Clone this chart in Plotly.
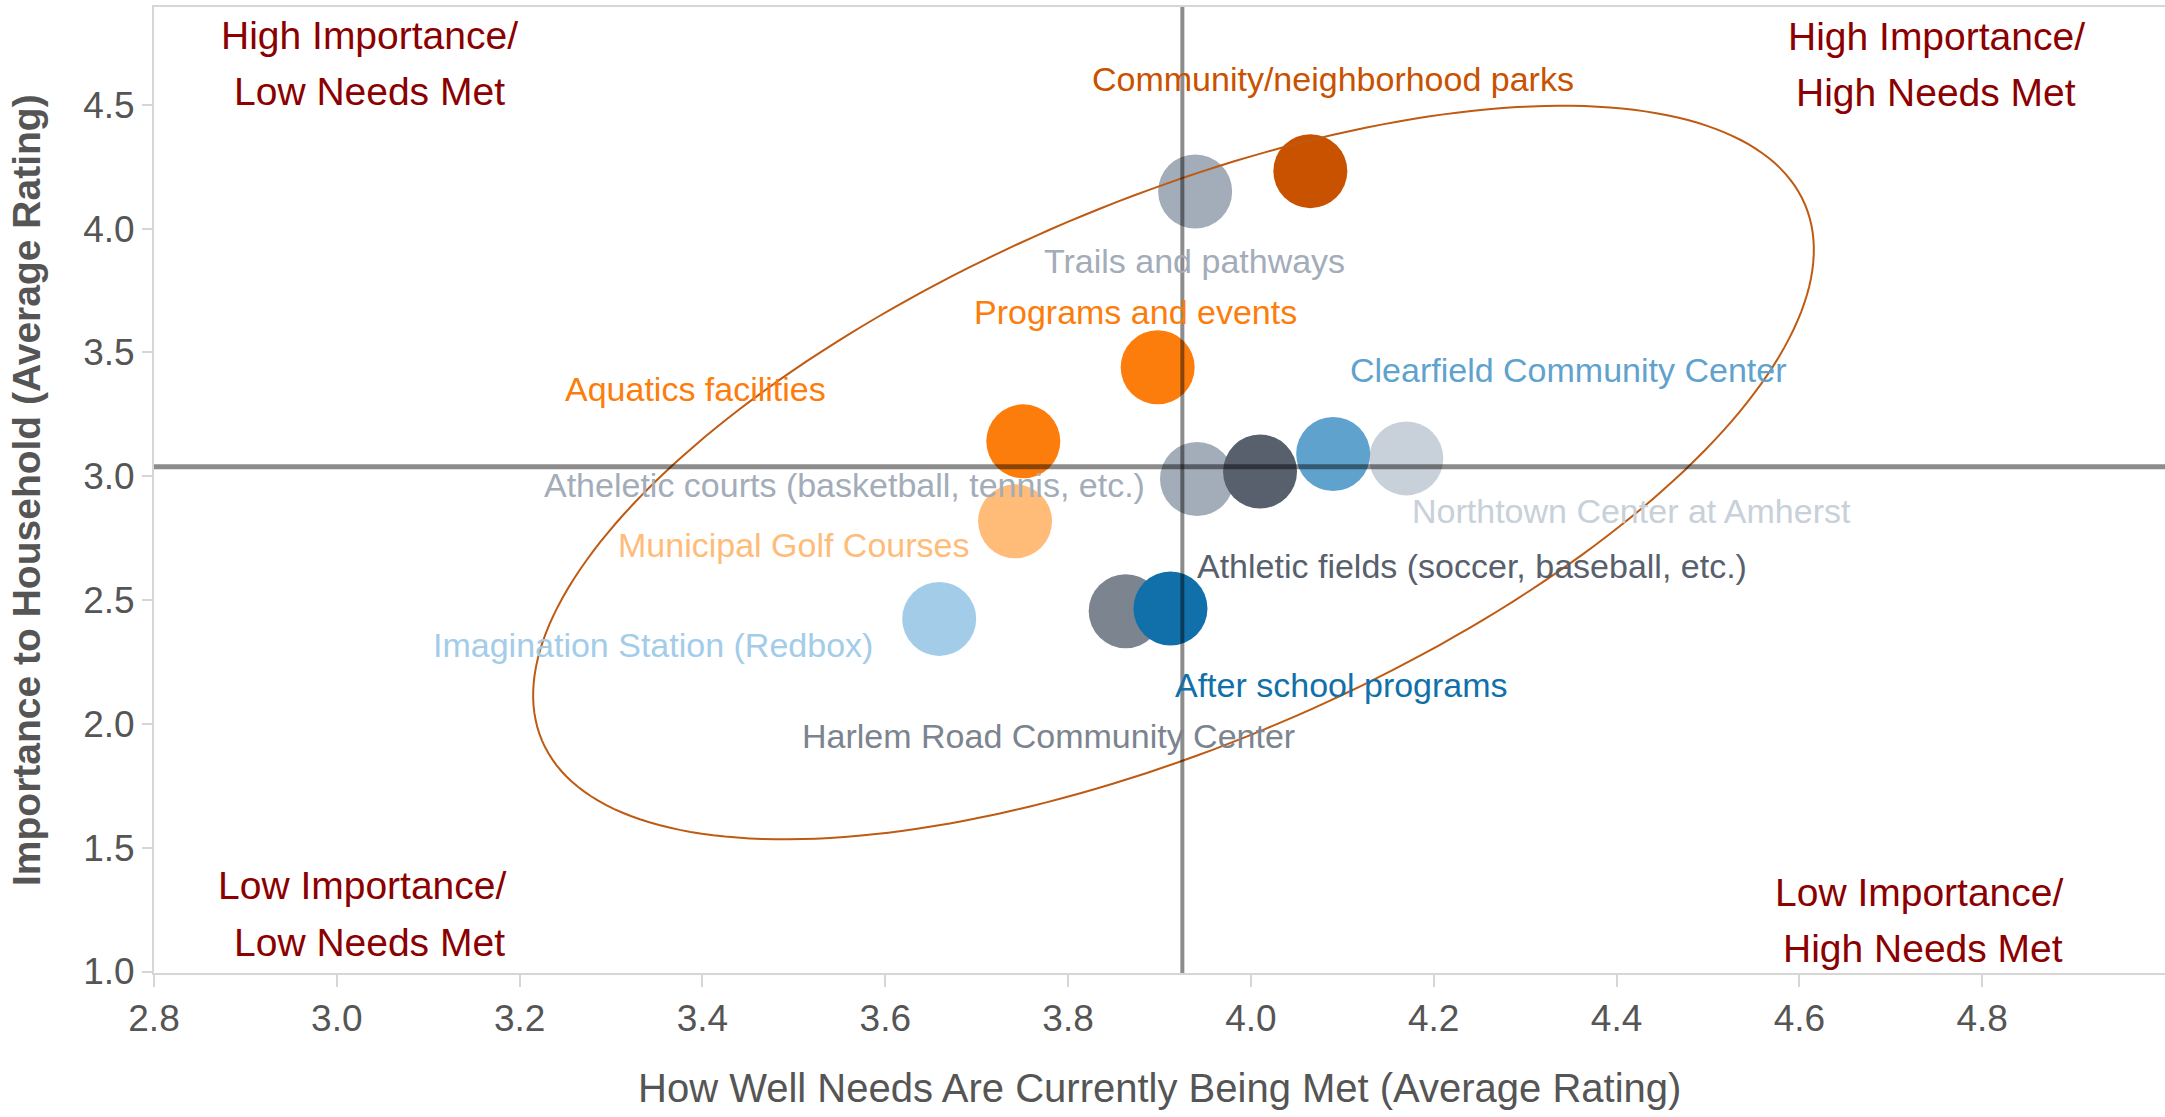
import numpy as np
import plotly.graph_objects as go

# amenities, drawn in this order (later ones sit on top)
amenities = [
    "Northtown Center at Amherst",
    "Clearfield Community Center",
    "Atheletic courts (basketball, tennis, etc.)",
    "Athletic fields (soccer, baseball, etc.)",
    "Trails and pathways",
    "Community/neighborhood parks",
    "Programs and events",
    "Aquatics facilities",
    "Municipal Golf Courses",
    "Imagination Station (Redbox)",
    "Harlem Road Community Center",
    "After school programs",
]
needs_met = [4.170, 4.090, 3.941, 4.010, 3.939, 4.065, 3.898, 3.751, 3.742, 3.659, 3.863, 3.912]
importance = [3.072, 3.090, 2.989, 3.019, 4.150, 4.232, 3.440, 3.141, 2.818, 2.424, 2.455, 2.466]

# reference lines
ref_needs_met = 3.925
ref_importance = 3.038

x_ticks = [2.8, 3.0, 3.2, 3.4, 3.6, 3.8, 4.0, 4.2, 4.4, 4.6, 4.8]
y_ticks = [1.0, 1.5, 2.0, 2.5, 3.0, 3.5, 4.0, 4.5]

quadrants = [
    ("High Importance/", "Low Needs Met"),
    ("High Importance/", "High Needs Met"),
    ("Low Importance/", "Low Needs Met"),
    ("Low Importance/", "High Needs Met"),
]

# --- styling -------------------------------------------------------------
colors = ["#c8d0d9", "#5fa2ce", "#a3acb9", "#57606c", "#a3acb9", "#c85200",
          "#fc7d0b", "#fc7d0b", "#ffbc79", "#a3cce9", "#7b848f", "#1170aa"]
# label placement relative to each marker: (xshift px, yshift px, xanchor)
label_pos = [
    (4, -53, "left"), (15, 84, "left"), (-50, -6, "right"), (-65, -94, "left"),
    (-1, -70, "center"), (23, 92, "center"), (141, 55, "right"), (-195, 52, "right"),
    (-44, -24, "right"), (-64, -26, "right"), (-77, -125, "center"), (3, -77, "left"),
]
# quadrant label line centres in page pixels: (x1, y1, x2, y2)
quad_px = [(369, 35, 369, 91), (1936, 37, 1936, 93),
           (362, 885, 369, 942), (1919, 892, 1923, 948)]

W, H = 2165, 1117
ML, MR, MT, MB = 154, 0, 7, 144
x_range = [2.8, 5.0]
y_range = [0.994, 4.895]
plot_w, plot_h = W - ML - MR, H - MT - MB
kx = plot_w / (x_range[1] - x_range[0])
ky = plot_h / (y_range[1] - y_range[0])

FONT = "Arial, Liberation Sans, sans-serif"
DARK_RED = "#8b0000"
GREY_TXT = "#555555"
AXIS_GREY = "#d6d6d6"

fig = go.Figure()
fig.add_trace(go.Scatter(
    x=needs_met, y=importance,
    mode="markers",
    marker=dict(size=74, color=colors, line=dict(width=0)),
    text=amenities,
    hoverinfo="text",
    showlegend=False,
))

# point labels
for name, xv, yv, col, (dx, dy, anc) in zip(amenities, needs_met, importance, colors, label_pos):
    fig.add_annotation(
        x=xv, y=yv, xref="x", yref="y", text=name, showarrow=False,
        xanchor=anc, yanchor="middle", xshift=dx, yshift=dy,
        font=dict(family=FONT, size=34, color=col),
    )

# quadrant labels
def to_paper(px, py):
    return (px - ML) / plot_w, (H - MB - py) / plot_h

for (l1, l2), (x1, y1, x2, y2) in zip(quadrants, quad_px):
    for txt, px, py in ((l1, x1, y1), (l2, x2, y2)):
        fx, fy = to_paper(px, py)
        fig.add_annotation(
            x=fx, y=fy, xref="paper", yref="paper", text=txt, showarrow=False,
            xanchor="center", yanchor="middle",
            font=dict(family=FONT, size=39, color=DARK_RED),
        )

# axis titles
fig.add_annotation(
    x=0.5, y=0, xref="paper", yref="paper", showarrow=False,
    text="How Well Needs Are Currently Being Met (Average Rating)",
    xanchor="center", yanchor="middle", yshift=-115,
    font=dict(family=FONT, size=40, color=GREY_TXT),
)
fig.add_annotation(
    x=0, y=0.5, xref="paper", yref="paper", showarrow=False,
    text="<b>Importance to Household (Average Rating)</b>", textangle=-90,
    xanchor="center", yanchor="middle", xshift=-128,
    font=dict(family=FONT, size=39, color=GREY_TXT),
)

# highlighted cluster (rotated ellipse, sized in screen pixels)
ell_cx, ell_cy = 3.9153, 3.015
ell_a, ell_b, ell_rot = 686, 272, np.radians(23)
t = np.linspace(0, 2 * np.pi, 241)
ex = ell_cx + (ell_a * np.cos(t) * np.cos(ell_rot) - ell_b * np.sin(t) * np.sin(ell_rot)) / kx
ey = ell_cy + (ell_a * np.cos(t) * np.sin(ell_rot) + ell_b * np.sin(t) * np.cos(ell_rot)) / ky
path = "M " + " L ".join(f"{a:.5f},{b:.5f}" for a, b in zip(ex, ey)) + " Z"
fig.add_shape(type="path", path=path, xref="x", yref="y", layer="above",
              line=dict(color="#bf5a12", width=2))

# reference lines
fig.add_shape(type="line", xref="x", yref="paper", x0=ref_needs_met, x1=ref_needs_met,
              y0=0, y1=1, layer="above", line=dict(color="rgba(0,0,0,0.45)", width=4))
fig.add_shape(type="line", xref="paper", yref="y", x0=0, x1=1, y0=ref_importance,
              y1=ref_importance, layer="above", line=dict(color="rgba(0,0,0,0.45)", width=5))

fig.update_layout(
    width=W, height=H,
    margin=dict(l=ML, r=MR, t=MT, b=MB, pad=0),
    paper_bgcolor="white", plot_bgcolor="white",
    font=dict(family=FONT, color=GREY_TXT),
    xaxis=dict(
        range=x_range, tickvals=x_ticks, ticktext=[f"{v:.1f}" for v in x_ticks],
        showgrid=False, zeroline=False, showline=True, linecolor=AXIS_GREY,
        linewidth=2, mirror=True, ticks="outside", ticklen=12, tickwidth=2,
        tickcolor=AXIS_GREY, tickfont=dict(size=37, color=GREY_TXT),
    ),
    yaxis=dict(
        range=y_range, tickvals=y_ticks, ticktext=[f"{v:.1f}" for v in y_ticks],
        showgrid=False, zeroline=False, showline=True, linecolor=AXIS_GREY,
        linewidth=2, ticks="outside", ticklen=10, tickwidth=2,
        tickcolor=AXIS_GREY, tickfont=dict(size=37, color=GREY_TXT),
    ),
)

fig.write_html("out.html", config={"displayModeBar": False},
               post_script="document.body.style.margin='0';")
